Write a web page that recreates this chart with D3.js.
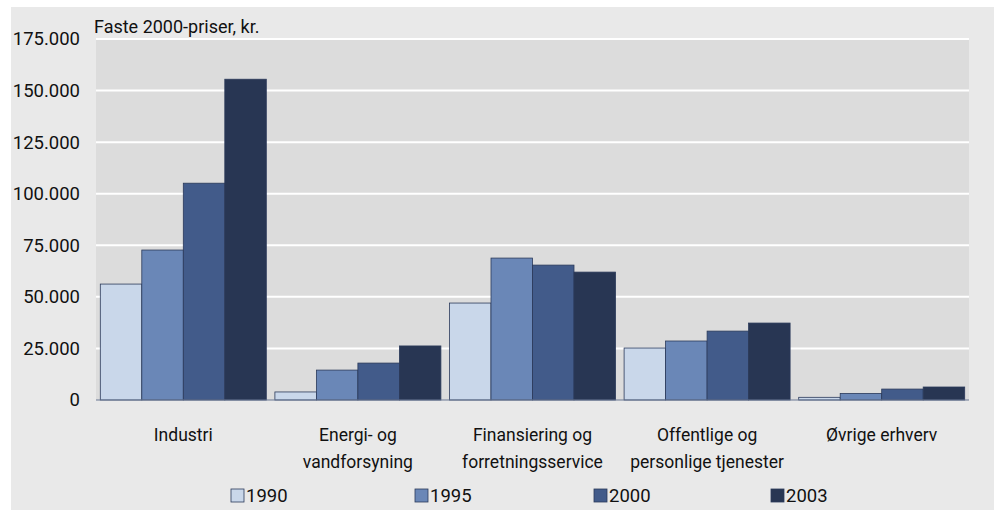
<!DOCTYPE html>
<html><head><meta charset="utf-8">
<script src="https://cdn.jsdelivr.net/npm/d3@7"></script>
<style>
body{margin:0;background:#fff;}
text{font-family:Roboto,"Noto Sans",sans-serif;fill:#111;}
</style></head>
<body><svg id="c" width="997" height="510"></svg>
<script>
const categories = [["Industri"],["Energi- og","vandforsyning"],["Finansiering og","forretningsservice"],["Offentlige og","personlige tjenester"],["Øvrige erhverv"]];
const years = ["1990","1995","2000","2003"];
const v1990 = [56200, 3900, 47000, 25200, 1300];
const v1995 = [72700, 14500, 68800, 28600, 3200];
const v2000 = [105100, 17900, 65400, 33400, 5300];
const v2003 = [155500, 26200, 62000, 37300, 6300];
const tickValues = [0,25000,50000,75000,100000,125000,150000,175000];
const tickLabels = ["0","25.000","50.000","75.000","100.000","125.000","150.000","175.000"];
const colors = ["#c9d7ea","#6a87b7","#425b8a","#283653"];
const series = [v1990, v1995, v2000, v2003];

const svg = d3.select("#c");
svg.append("rect").attr("x",11).attr("y",7).attr("width",983).attr("height",503).attr("fill","#e9e9e9");
const L=96, R=969, T=39, B=400;
svg.append("rect").attr("x",L).attr("y",T).attr("width",R-L).attr("height",B-T).attr("fill","#dcdcdc");

const y = d3.scaleLinear().domain([0,175000]).range([B,T]);
const x0 = d3.scaleBand().domain(d3.range(categories.length)).range([L,R]).paddingInner(0).paddingOuter(0);
const x1 = d3.scaleBand().domain(d3.range(years.length)).range([4.3, x0.bandwidth()-4.3]);

svg.append("g").selectAll("line").data(tickValues.slice(1)).join("line")
  .attr("x1",L).attr("x2",R).attr("y1",d=>y(d)).attr("y2",d=>y(d))
  .attr("stroke","#fff").attr("stroke-width",2);

const gs = svg.append("g").selectAll("g").data(series).join("g").attr("fill",(d,i)=>colors[i]);
gs.each(function(vals,si){
  d3.select(this).selectAll("rect").data(vals).join("rect")
    .attr("x",(d,ci)=>x0(ci)+x1(si)).attr("width",x1.bandwidth())
    .attr("y",d=>y(d)).attr("height",d=>B-y(d))
    .attr("stroke","#2b3a5a").attr("stroke-width",0.8);
});

svg.append("line").attr("x1",L).attr("x2",R).attr("y1",B).attr("y2",B).attr("stroke","#6b7894").attr("stroke-width",1.2);

const yAxis = d3.axisLeft(y).tickValues(tickValues).tickFormat((d,i)=>tickLabels[i]).tickSize(0).tickPadding(16);
const ga = svg.append("g").attr("transform",`translate(${L},0)`).call(yAxis);
ga.select(".domain").remove();
ga.selectAll("text").attr("font-size",18.5).attr("fill","#111").style("font-family",'Roboto,"Noto Sans",sans-serif');

svg.append("text").attr("x",94).attr("y",33).attr("font-size",18).text("Faste 2000-priser, kr.");

const cg = svg.append("g").selectAll("text").data(categories).join("text")
  .attr("text-anchor","middle").attr("font-size",17.5)
  .attr("x",(d,i)=>x0(i)+x0.bandwidth()/2).attr("y",441);
cg.selectAll("tspan").data(d=>d).join("tspan")
  .attr("x",function(){return this.parentNode.getAttribute("x");})
  .attr("dy",(d,i)=>i===0?0:27).text(d=>d);

const legX = [231, 415, 594, 771];
const lg = svg.append("g").selectAll("g").data(years).join("g").attr("transform",(d,i)=>`translate(${legX[i]},489)`);
lg.append("rect").attr("width",13).attr("height",13).attr("fill",(d,i)=>colors[i]).attr("stroke","#2b3a5a").attr("stroke-width",0.8);
lg.append("text").attr("x",15).attr("y",13).attr("font-size",18.5).text(d=>d);
</script></body></html>
